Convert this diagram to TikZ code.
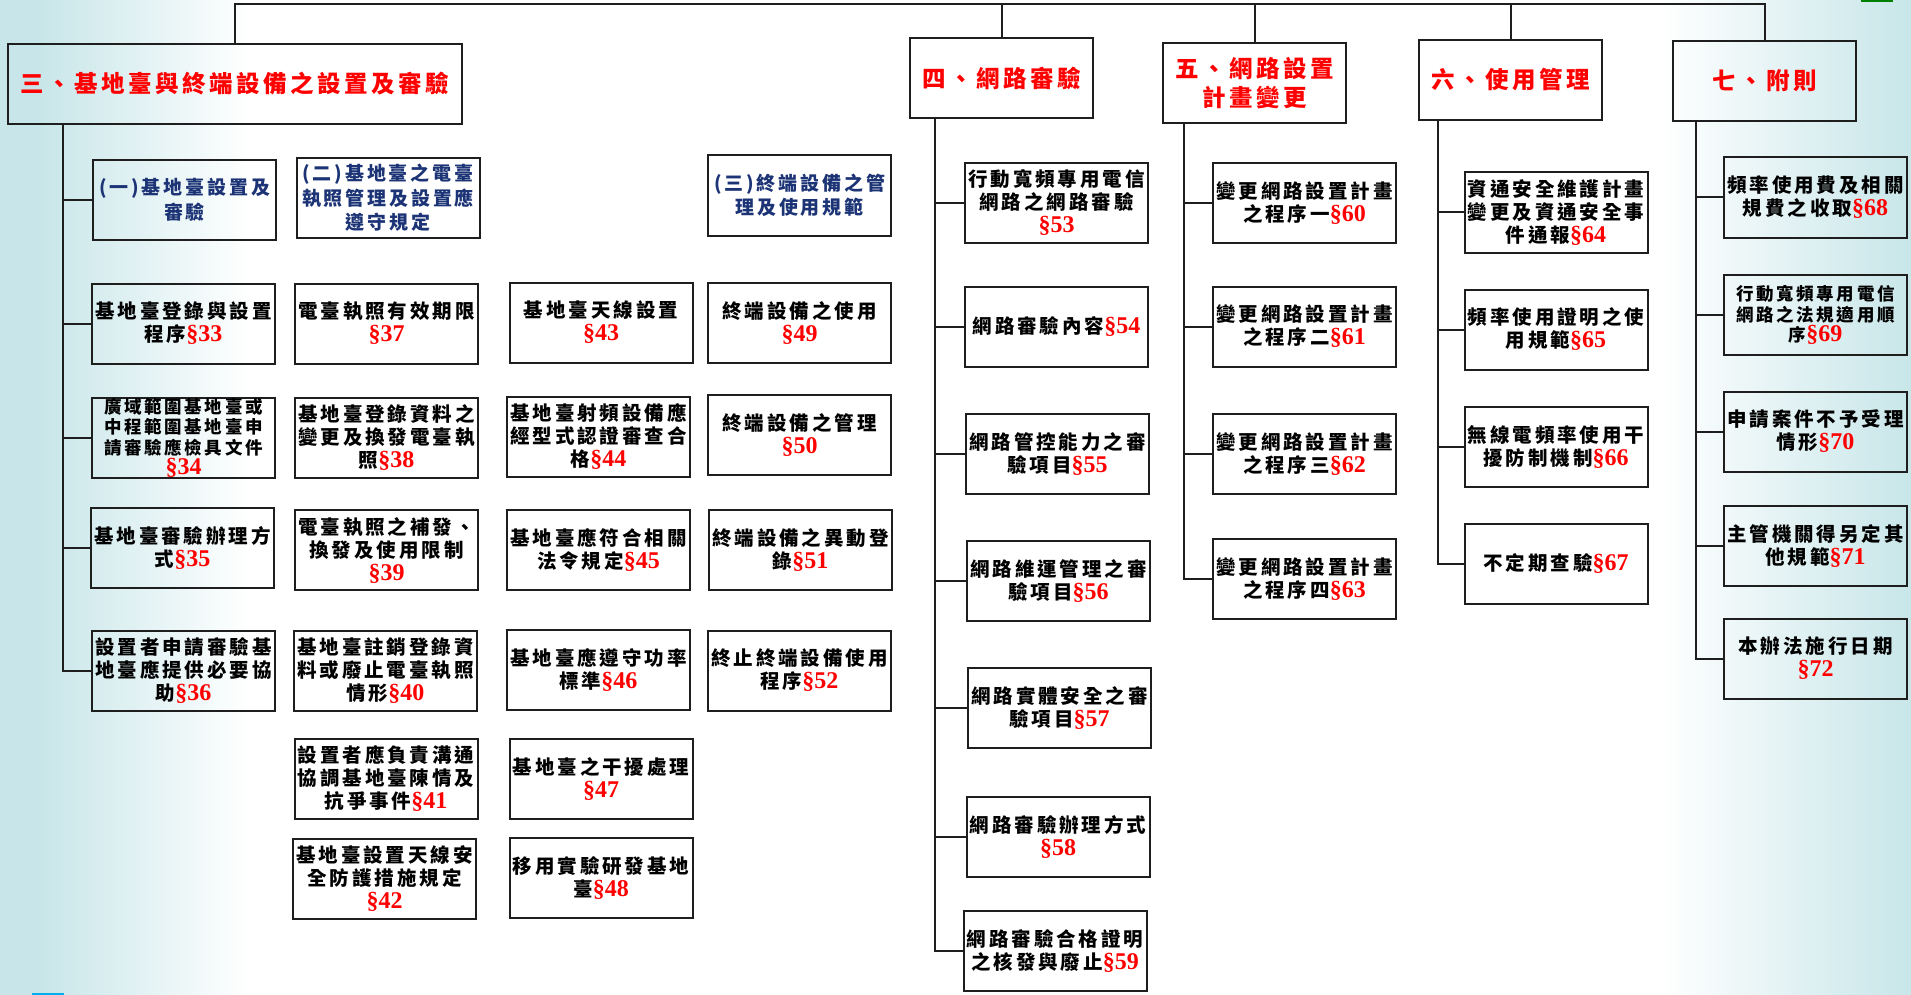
\documentclass[tikz,border=0pt]{standalone}
\usepackage{fontspec}
\usepackage{xcolor}
\usepackage{tikz}
\usetikzlibrary{positioning}
\newfontfamily\cjkfont[LetterSpace=15]{Noto Sans CJK TC}
\newfontfamily\numfont{Liberation Serif}
\definecolor{artred}{RGB}{255,0,0}
\definecolor{subblue}{RGB}{28,52,118}
\definecolor{boxline}{RGB}{30,30,30}
\definecolor{bgteal}{RGB}{200,230,233}
\newcommand{\artno}[1]{{\numfont\fontsize{24}{26}\selectfont\color{artred}§#1}}

\begin{document}
\begin{tikzpicture}[x=1pt,y=-1pt]
  \tikzstyle{artbox}=[rectangle,draw=boxline,line width=2pt,minimum width=183pt,minimum height=80pt,align=center,inner sep=0pt,font=\cjkfont\bfseries\fontsize{19.5}{23}\selectfont]
  \tikzstyle{smallbox}=[artbox,font=\cjkfont\bfseries\fontsize{17.5}{20.5}\selectfont]
  \tikzstyle{chapbox}=[artbox,text=artred,font=\cjkfont\bfseries\fontsize{23.5}{29}\selectfont]
  \tikzstyle{subbox}=[artbox,text=subblue,font=\cjkfont\bfseries\fontsize{19}{24.5}\selectfont]
  \tikzstyle{link}=[draw=boxline,line width=2pt]

  % background
  \useasboundingbox (0,0) rectangle (1911,995);
  \fill[white] (0,0) rectangle (1911,995);
  \fill[bgteal] (0,0) rectangle (40,995);
  \shade[left color=bgteal,right color=white] (40,0) rectangle (250,995);
  \shade[left color=white,right color=bgteal] (1660,0) rectangle (1911,995);
  \fill[green!50!black] (1861,0) rectangle (1893,2);
  \fill[cyan] (32,993) rectangle (64,995);

  % chapters
  \node[chapbox,minimum width=454pt] (h3) at (235,84) {三、基地臺與終端設備之設置及審驗};
  \node[chapbox] (h4) at (1001.5,78.5) {四、網路審驗};
  \node[chapbox] (h5) at (1254.5,83) {五、網路設置\\計畫變更};
  \node[chapbox] (h6) at (1510.5,80) {六、使用管理};
  \node[chapbox] (h7) at (1764.5,81) {七、附則};

  % part three
  \node[subbox] (sub1) at (184.5,200) {(一)基地臺設置及\\審驗};
  \node[subbox] (sub2) at (388,198) {(二)基地臺之電臺\\執照管理及設置應\\遵守規定};
  \node[subbox] (sub3) at (799.5,195.5) {(三)終端設備之管\\理及使用規範};

  \node[artbox] (a33) at (183.5,323.5) {基地臺登錄與設置\\程序\artno{33}};
  \node[smallbox] (a34) at (183.5,438) {廣域範圍基地臺或\\中程範圍基地臺申\\請審驗應檢具文件\\\artno{34}};
  \node[artbox] (a35) at (182.5,547.5) {基地臺審驗辦理方\\式\artno{35}};
  \node[artbox] (a36) at (183.5,670.5) {設置者申請審驗基\\地臺應提供必要協\\助\artno{36}};

  \node[artbox] (b37) at (386.5,323.5) {電臺執照有效期限\\\artno{37}};
  \node[artbox] (b38) at (386.5,437.5) {基地臺登錄資料之\\變更及換發電臺執\\照\artno{38}};
  \node[artbox] (b39) at (386.5,550) {電臺執照之補發、\\換發及使用限制\\\artno{39}};
  \node[artbox] (b40) at (385.5,670.5) {基地臺註銷登錄資\\料或廢止電臺執照\\情形\artno{40}};
  \node[artbox] (b41) at (386,778.5) {設置者應負責溝通\\協調基地臺陳情及\\抗爭事件\artno{41}};
  \node[artbox] (b42) at (384.5,878.5) {基地臺設置天線安\\全防護措施規定\\\artno{42}};

  \node[artbox] (c43) at (601,322.5) {基地臺天線設置\\\artno{43}};
  \node[artbox] (c44) at (598.5,436.5) {基地臺射頻設備應\\經型式認證審查合\\格\artno{44}};
  \node[artbox] (c45) at (598.5,550) {基地臺應符合相關\\法令規定\artno{45}};
  \node[artbox] (c46) at (598.5,670) {基地臺應遵守功率\\標準\artno{46}};
  \node[artbox] (c47) at (601,778.5) {基地臺之干擾處理\\\artno{47}};
  \node[artbox] (c48) at (601,878) {移用實驗研發基地\\臺\artno{48}};

  \node[artbox] (d49) at (799.5,322.5) {終端設備之使用\\\artno{49}};
  \node[artbox] (d50) at (799.5,435) {終端設備之管理\\\artno{50}};
  \node[artbox] (d51) at (800.5,550) {終端設備之異動登\\錄\artno{51}};
  \node[artbox] (d52) at (799.5,670.5) {終止終端設備使用\\程序\artno{52}};

  % part four
  \node[artbox] (n53) at (1056.5,203) {行動寬頻專用電信\\網路之網路審驗\\\artno{53}};
  \node[artbox] (n54) at (1056.5,326.5) {網路審驗內容\artno{54}};
  \node[artbox] (n55) at (1057.5,454) {網路管控能力之審\\驗項目\artno{55}};
  \node[artbox] (n56) at (1058.5,580.5) {網路維運管理之審\\驗項目\artno{56}};
  \node[artbox] (n57) at (1059.5,708) {網路實體安全之審\\驗項目\artno{57}};
  \node[artbox] (n58) at (1058,836.5) {網路審驗辦理方式\\\artno{58}};
  \node[artbox] (n59) at (1055,951) {網路審驗合格證明\\之核發與廢止\artno{59}};

  % part five
  \node[artbox] (p60) at (1304.5,203) {變更網路設置計畫\\之程序一\artno{60}};
  \node[artbox] (p61) at (1304.5,326.5) {變更網路設置計畫\\之程序二\artno{61}};
  \node[artbox] (p62) at (1304.5,454) {變更網路設置計畫\\之程序三\artno{62}};
  \node[artbox] (p63) at (1304.5,579) {變更網路設置計畫\\之程序四\artno{63}};

  % part six
  \node[artbox] (u64) at (1556,212.5) {資通安全維護計畫\\變更及資通安全事\\件通報\artno{64}};
  \node[artbox] (u65) at (1556,329.5) {頻率使用證明之使\\用規範\artno{65}};
  \node[artbox] (u66) at (1556,446.5) {無線電頻率使用干\\擾防制機制\artno{66}};
  \node[artbox] (u67) at (1556,563.5) {不定期查驗\artno{67}};

  % part seven
  \node[artbox] (r68) at (1815.5,197.5) {頻率使用費及相關\\規費之收取\artno{68}};
  \node[smallbox] (r69) at (1815.5,315) {行動寬頻專用電信\\網路之法規適用順\\序\artno{69}};
  \node[artbox] (r70) at (1815.5,431.5) {申請案件不予受理\\情形\artno{70}};
  \node[artbox] (r71) at (1815.5,546) {主管機關得另定其\\他規範\artno{71}};
  \node[artbox] (r72) at (1815.5,658.5) {本辦法施行日期\\\artno{72}};

  % top bar
  \coordinate (top) at (235,4);
  \draw[link] (h3.north) |- (h7.north |- top) -- (h7.north);
  \draw[link] (h4.north) -- (h4.north |- top);
  \draw[link] (h5.north) -- (h5.north |- top);
  \draw[link] (h6.north) -- (h6.north |- top);

  % trunks
  \coordinate (t3) at ([xshift=56pt]h3.south west);
  \coordinate (t4) at ([xshift=26pt]h4.south west);
  \coordinate (t5) at ([xshift=22pt]h5.south west);
  \coordinate (t6) at ([xshift=20pt]h6.south west);
  \coordinate (t7) at ([xshift=24pt]h7.south west);

  \draw[link] (t3) |- (a36.west);
  \draw[link] (sub1.west) -- (sub1.west -| t3);
  \draw[link] (a33.west) -- (a33.west -| t3);
  \draw[link] (a34.west) -- (a34.west -| t3);
  \draw[link] (a35.west) -- (a35.west -| t3);

  \draw[link] (t4) |- (n59.west);
  \draw[link] (n53.west) -- (n53.west -| t4);
  \draw[link] (n54.west) -- (n54.west -| t4);
  \draw[link] (n55.west) -- (n55.west -| t4);
  \draw[link] (n56.west) -- (n56.west -| t4);
  \draw[link] (n57.west) -- (n57.west -| t4);
  \draw[link] (n58.west) -- (n58.west -| t4);

  \draw[link] (t5) |- (p63.west);
  \draw[link] (p60.west) -- (p60.west -| t5);
  \draw[link] (p61.west) -- (p61.west -| t5);
  \draw[link] (p62.west) -- (p62.west -| t5);

  \draw[link] (t6) |- (u67.west);
  \draw[link] (u64.west) -- (u64.west -| t6);
  \draw[link] (u65.west) -- (u65.west -| t6);
  \draw[link] (u66.west) -- (u66.west -| t6);

  \draw[link] (t7) |- (r72.west);
  \draw[link] (r68.west) -- (r68.west -| t7);
  \draw[link] (r69.west) -- (r69.west -| t7);
  \draw[link] (r70.west) -- (r70.west -| t7);
  \draw[link] (r71.west) -- (r71.west -| t7);
\end{tikzpicture}
\end{document}
